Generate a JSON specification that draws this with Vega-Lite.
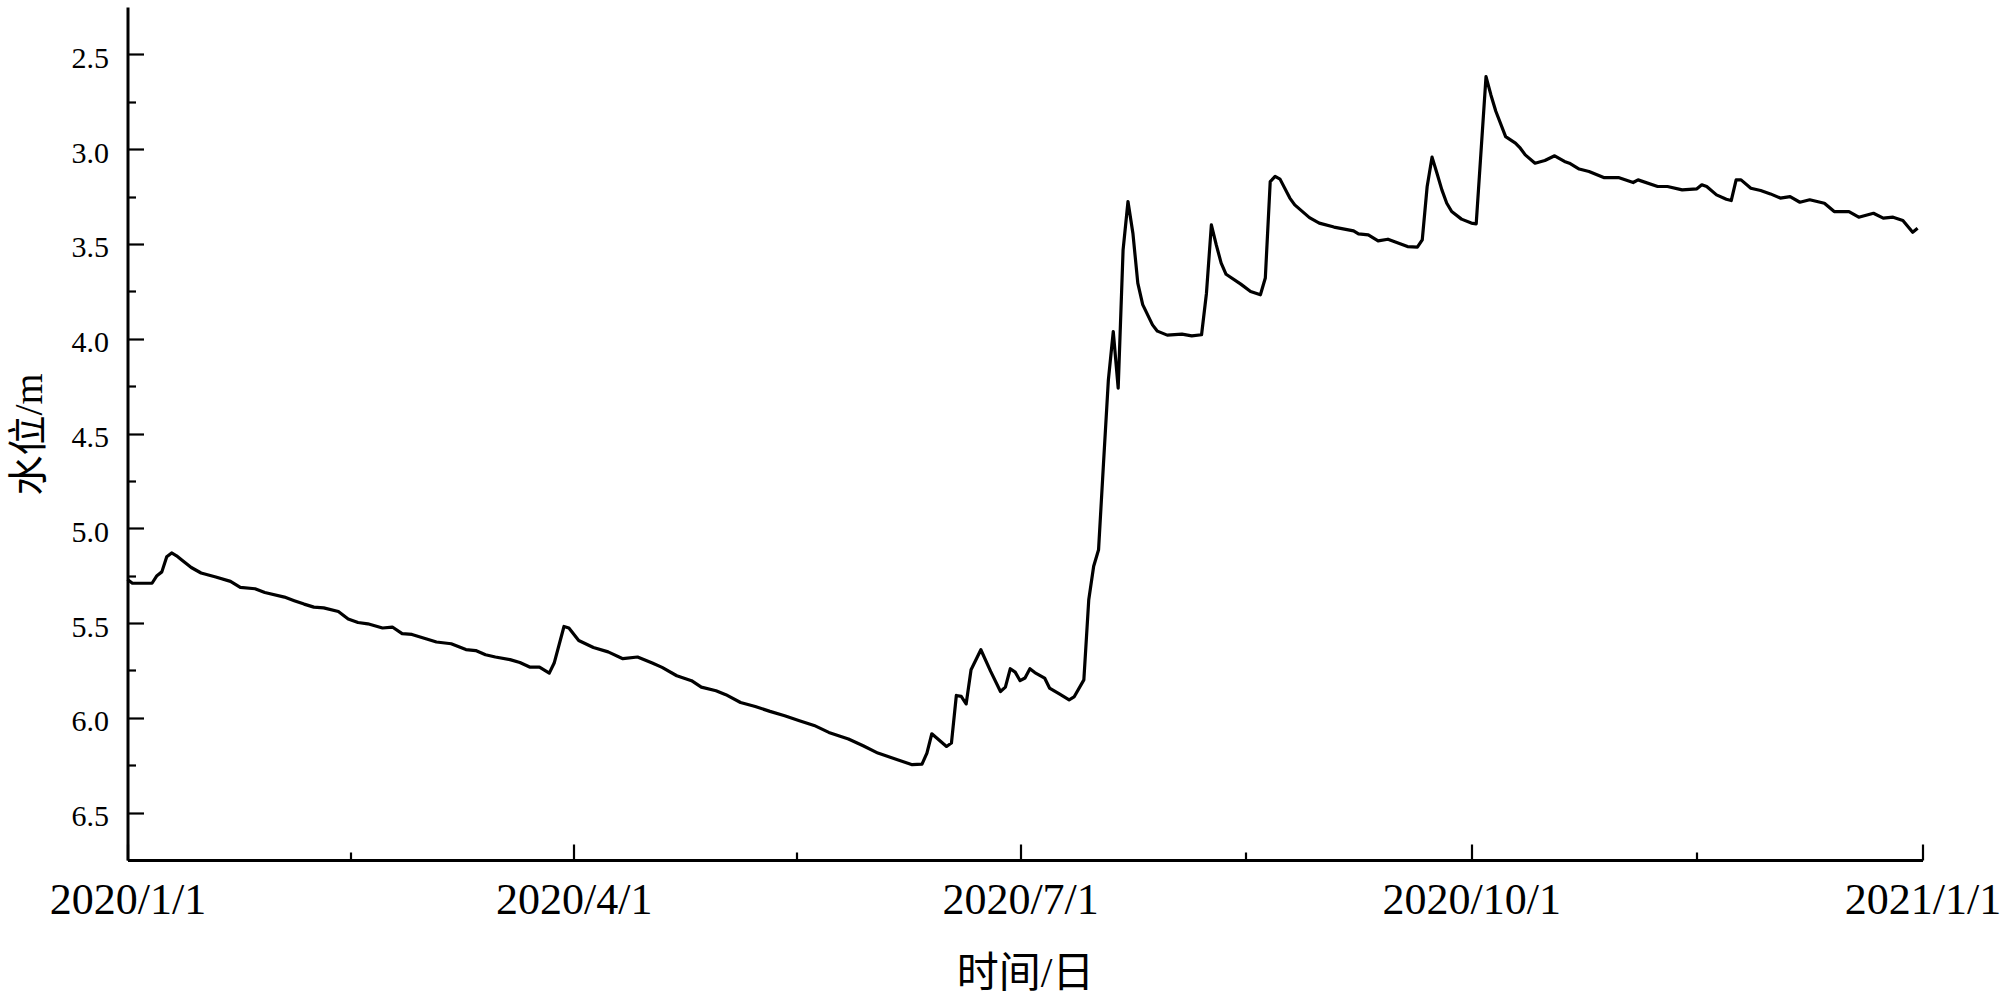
{
  "$schema": "https://vega.github.io/schema/vega-lite/v6.json",
  "width": 1795,
  "height": 853,
  "autosize": {"type": "none"},
  "padding": {"left": 127.5, "top": 7, "right": 77.5, "bottom": 139},
  "background": "white",
  "config": {"view": {"stroke": null}, "font": "Liberation Serif, Noto Sans CJK SC"},
  "data": {"values": [
    {"date": "2020-01-01", "level": 5.27},
    {"date": "2020-01-02", "level": 5.29},
    {"date": "2020-01-04", "level": 5.29},
    {"date": "2020-01-06", "level": 5.29},
    {"date": "2020-01-07", "level": 5.25},
    {"date": "2020-01-08", "level": 5.23},
    {"date": "2020-01-09", "level": 5.15},
    {"date": "2020-01-10", "level": 5.13},
    {"date": "2020-01-11", "level": 5.145},
    {"date": "2020-01-12", "level": 5.166},
    {"date": "2020-01-14", "level": 5.207},
    {"date": "2020-01-16", "level": 5.236},
    {"date": "2020-01-19", "level": 5.257},
    {"date": "2020-01-22", "level": 5.28},
    {"date": "2020-01-24", "level": 5.312},
    {"date": "2020-01-27", "level": 5.319},
    {"date": "2020-01-29", "level": 5.339},
    {"date": "2020-02-02", "level": 5.363},
    {"date": "2020-02-04", "level": 5.382},
    {"date": "2020-02-06", "level": 5.4},
    {"date": "2020-02-08", "level": 5.416},
    {"date": "2020-02-10", "level": 5.42},
    {"date": "2020-02-13", "level": 5.439},
    {"date": "2020-02-15", "level": 5.479},
    {"date": "2020-02-17", "level": 5.497},
    {"date": "2020-02-19", "level": 5.504},
    {"date": "2020-02-22", "level": 5.526},
    {"date": "2020-02-24", "level": 5.521},
    {"date": "2020-02-26", "level": 5.556},
    {"date": "2020-02-28", "level": 5.56},
    {"date": "2020-03-02", "level": 5.584},
    {"date": "2020-03-04", "level": 5.6},
    {"date": "2020-03-07", "level": 5.609},
    {"date": "2020-03-10", "level": 5.64},
    {"date": "2020-03-12", "level": 5.645},
    {"date": "2020-03-14", "level": 5.667},
    {"date": "2020-03-16", "level": 5.679},
    {"date": "2020-03-19", "level": 5.693},
    {"date": "2020-03-21", "level": 5.708},
    {"date": "2020-03-23", "level": 5.732},
    {"date": "2020-03-25", "level": 5.732},
    {"date": "2020-03-27", "level": 5.764},
    {"date": "2020-03-28", "level": 5.711},
    {"date": "2020-03-30", "level": 5.518},
    {"date": "2020-03-31", "level": 5.526},
    {"date": "2020-04-02", "level": 5.592},
    {"date": "2020-04-05", "level": 5.629},
    {"date": "2020-04-08", "level": 5.652},
    {"date": "2020-04-11", "level": 5.688},
    {"date": "2020-04-14", "level": 5.679},
    {"date": "2020-04-17", "level": 5.711},
    {"date": "2020-04-19", "level": 5.734},
    {"date": "2020-04-22", "level": 5.778},
    {"date": "2020-04-25", "level": 5.804},
    {"date": "2020-04-27", "level": 5.838},
    {"date": "2020-04-30", "level": 5.857},
    {"date": "2020-05-02", "level": 5.878},
    {"date": "2020-05-05", "level": 5.919},
    {"date": "2020-05-08", "level": 5.94},
    {"date": "2020-05-11", "level": 5.966},
    {"date": "2020-05-14", "level": 5.989},
    {"date": "2020-05-17", "level": 6.015},
    {"date": "2020-05-20", "level": 6.04},
    {"date": "2020-05-23", "level": 6.077},
    {"date": "2020-05-27", "level": 6.112},
    {"date": "2020-05-30", "level": 6.147},
    {"date": "2020-06-02", "level": 6.186},
    {"date": "2020-06-06", "level": 6.221},
    {"date": "2020-06-09", "level": 6.247},
    {"date": "2020-06-11", "level": 6.244},
    {"date": "2020-06-12", "level": 6.186},
    {"date": "2020-06-13", "level": 6.084},
    {"date": "2020-06-16", "level": 6.151},
    {"date": "2020-06-17", "level": 6.133},
    {"date": "2020-06-18", "level": 5.882},
    {"date": "2020-06-19", "level": 5.887},
    {"date": "2020-06-20", "level": 5.927},
    {"date": "2020-06-21", "level": 5.746},
    {"date": "2020-06-23", "level": 5.641},
    {"date": "2020-06-25", "level": 5.755},
    {"date": "2020-06-27", "level": 5.861},
    {"date": "2020-06-28", "level": 5.838},
    {"date": "2020-06-29", "level": 5.741},
    {"date": "2020-06-30", "level": 5.759},
    {"date": "2020-07-01", "level": 5.804},
    {"date": "2020-07-02", "level": 5.79},
    {"date": "2020-07-03", "level": 5.741},
    {"date": "2020-07-04", "level": 5.761},
    {"date": "2020-07-06", "level": 5.79},
    {"date": "2020-07-07", "level": 5.843},
    {"date": "2020-07-09", "level": 5.874},
    {"date": "2020-07-11", "level": 5.905},
    {"date": "2020-07-12", "level": 5.89},
    {"date": "2020-07-14", "level": 5.8},
    {"date": "2020-07-15", "level": 5.377},
    {"date": "2020-07-16", "level": 5.2},
    {"date": "2020-07-17", "level": 5.113},
    {"date": "2020-07-18", "level": 4.66},
    {"date": "2020-07-19", "level": 4.217},
    {"date": "2020-07-20", "level": 3.962},
    {"date": "2020-07-21", "level": 4.261},
    {"date": "2020-07-22", "level": 3.531},
    {"date": "2020-07-23", "level": 3.276},
    {"date": "2020-07-24", "level": 3.443},
    {"date": "2020-07-25", "level": 3.707},
    {"date": "2020-07-26", "level": 3.82},
    {"date": "2020-07-28", "level": 3.927},
    {"date": "2020-07-29", "level": 3.96},
    {"date": "2020-07-31", "level": 3.981},
    {"date": "2020-08-03", "level": 3.976},
    {"date": "2020-08-05", "level": 3.985},
    {"date": "2020-08-07", "level": 3.979},
    {"date": "2020-08-08", "level": 3.76},
    {"date": "2020-08-09", "level": 3.399},
    {"date": "2020-08-10", "level": 3.505},
    {"date": "2020-08-11", "level": 3.601},
    {"date": "2020-08-12", "level": 3.66},
    {"date": "2020-08-15", "level": 3.712},
    {"date": "2020-08-17", "level": 3.751},
    {"date": "2020-08-19", "level": 3.768},
    {"date": "2020-08-20", "level": 3.68},
    {"date": "2020-08-21", "level": 3.171},
    {"date": "2020-08-22", "level": 3.144},
    {"date": "2020-08-23", "level": 3.158},
    {"date": "2020-08-25", "level": 3.258},
    {"date": "2020-08-26", "level": 3.294},
    {"date": "2020-08-29", "level": 3.361},
    {"date": "2020-08-31", "level": 3.39},
    {"date": "2020-09-03", "level": 3.411},
    {"date": "2020-09-07", "level": 3.431},
    {"date": "2020-09-08", "level": 3.447},
    {"date": "2020-09-10", "level": 3.452},
    {"date": "2020-09-12", "level": 3.484},
    {"date": "2020-09-14", "level": 3.475},
    {"date": "2020-09-18", "level": 3.514},
    {"date": "2020-09-20", "level": 3.517},
    {"date": "2020-09-21", "level": 3.478},
    {"date": "2020-09-22", "level": 3.197},
    {"date": "2020-09-23", "level": 3.042},
    {"date": "2020-09-24", "level": 3.127},
    {"date": "2020-09-25", "level": 3.215},
    {"date": "2020-09-26", "level": 3.285},
    {"date": "2020-09-27", "level": 3.329},
    {"date": "2020-09-29", "level": 3.369},
    {"date": "2020-10-01", "level": 3.39},
    {"date": "2020-10-02", "level": 3.394},
    {"date": "2020-10-04", "level": 2.617},
    {"date": "2020-10-05", "level": 2.714},
    {"date": "2020-10-06", "level": 2.8},
    {"date": "2020-10-08", "level": 2.934},
    {"date": "2020-10-10", "level": 2.968},
    {"date": "2020-10-11", "level": 2.995},
    {"date": "2020-10-12", "level": 3.03},
    {"date": "2020-10-14", "level": 3.074},
    {"date": "2020-10-16", "level": 3.06},
    {"date": "2020-10-18", "level": 3.035},
    {"date": "2020-10-20", "level": 3.065},
    {"date": "2020-10-21", "level": 3.074},
    {"date": "2020-10-23", "level": 3.105},
    {"date": "2020-10-25", "level": 3.118},
    {"date": "2020-10-28", "level": 3.15},
    {"date": "2020-10-31", "level": 3.15},
    {"date": "2020-11-03", "level": 3.176},
    {"date": "2020-11-04", "level": 3.162},
    {"date": "2020-11-08", "level": 3.197},
    {"date": "2020-11-10", "level": 3.197},
    {"date": "2020-11-13", "level": 3.215},
    {"date": "2020-11-16", "level": 3.209},
    {"date": "2020-11-17", "level": 3.188},
    {"date": "2020-11-18", "level": 3.197},
    {"date": "2020-11-20", "level": 3.241},
    {"date": "2020-11-22", "level": 3.264},
    {"date": "2020-11-23", "level": 3.271},
    {"date": "2020-11-24", "level": 3.162},
    {"date": "2020-11-25", "level": 3.162},
    {"date": "2020-11-27", "level": 3.206},
    {"date": "2020-11-29", "level": 3.218},
    {"date": "2020-12-01", "level": 3.236},
    {"date": "2020-12-03", "level": 3.258},
    {"date": "2020-12-05", "level": 3.25},
    {"date": "2020-12-07", "level": 3.28},
    {"date": "2020-12-09", "level": 3.267},
    {"date": "2020-12-12", "level": 3.285},
    {"date": "2020-12-14", "level": 3.329},
    {"date": "2020-12-17", "level": 3.329},
    {"date": "2020-12-19", "level": 3.359},
    {"date": "2020-12-22", "level": 3.338},
    {"date": "2020-12-24", "level": 3.364},
    {"date": "2020-12-26", "level": 3.359},
    {"date": "2020-12-28", "level": 3.376},
    {"date": "2020-12-30", "level": 3.438},
    {"date": "2020-12-31", "level": 3.417}
  ]},
  "mark": {"type": "line", "color": "#000", "strokeWidth": 3.2, "strokeJoin": "round", "clip": false},
  "encoding": {
    "x": {
      "field": "date",
      "type": "temporal",
      "scale": {
        "type": "utc",
        "nice": false,
        "domain": [
          {"year": 2020, "month": 1, "date": 1, "utc": true},
          {"year": 2021, "month": 1, "date": 1, "utc": true}
        ]
      },
      "axis": {
        "title": "时间/日",
        "orient": "bottom",
        "values": [
          {"year": 2020, "month": 1, "date": 1, "utc": true},
          {"year": 2020, "month": 2, "date": 15, "hours": 12, "utc": true},
          {"year": 2020, "month": 4, "date": 1, "utc": true},
          {"year": 2020, "month": 5, "date": 16, "hours": 12, "utc": true},
          {"year": 2020, "month": 7, "date": 1, "utc": true},
          {"year": 2020, "month": 8, "date": 16, "utc": true},
          {"year": 2020, "month": 10, "date": 1, "utc": true},
          {"year": 2020, "month": 11, "date": 16, "utc": true},
          {"year": 2021, "month": 1, "date": 1, "utc": true}
        ],
        "labelExpr": "utcdate(datum.value) == 1 ? utcFormat(datum.value, '%Y/%-m/%-d') : ''",
        "labelFont": "Liberation Serif",
        "labelFontSize": 44,
        "labelColor": "#000",
        "labelPadding": 34,
        "labelFlush": false,
        "labelOverlap": false,
        "labelBound": false,
        "ticks": true,
        "tickSize": {"condition": {"test": "utcdate(datum.value) == 1", "value": -16}, "value": -8},
        "tickColor": "#000",
        "tickWidth": 2.2,
        "domainColor": "#000",
        "domainWidth": 3,
        "grid": false,
        "titleFont": "Liberation Serif, Noto Sans CJK SC",
        "titleFontSize": 42,
        "titleFontWeight": "normal",
        "titleColor": "#000",
        "titleX": 897.5,
        "titleY": 113,
        "titleBaseline": "middle",
        "titleAlign": "center"
      }
    },
    "y": {
      "field": "level",
      "type": "quantitative",
      "scale": {"domain": [2.25, 6.75], "reverse": true, "nice": false, "zero": false},
      "axis": {
        "title": "水位/m",
        "orient": "left",
        "values": [2.5, 2.75, 3, 3.25, 3.5, 3.75, 4, 4.25, 4.5, 4.75, 5, 5.25, 5.5, 5.75, 6, 6.25, 6.5],
        "labelExpr": "round(datum.value * 4) % 2 == 0 ? format(datum.value, '.1f') : ''",
        "labelFont": "Liberation Serif",
        "labelFontSize": 30,
        "labelColor": "#000",
        "labelPadding": 35,
        "labelOffset": 4,
        "labelOverlap": false,
        "labelBound": false,
        "labelFlush": false,
        "ticks": true,
        "tickSize": {"condition": {"test": "round(datum.value * 4) % 2 == 0", "value": -16}, "value": -8},
        "tickColor": "#000",
        "tickWidth": 2.2,
        "domainColor": "#000",
        "domainWidth": 3,
        "grid": false,
        "titleFont": "Liberation Serif, Noto Sans CJK SC",
        "titleFontSize": 40,
        "titleFontWeight": "normal",
        "titleColor": "#000",
        "titleAngle": 270,
        "titleX": -98,
        "titleY": 427,
        "titleBaseline": "middle",
        "titleAlign": "center"
      }
    }
  }
}
